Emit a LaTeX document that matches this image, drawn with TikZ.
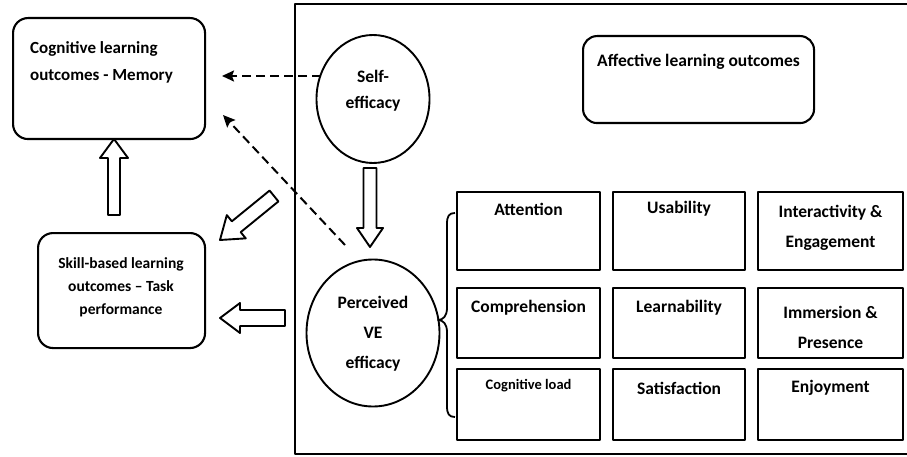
\documentclass[tikz,border=0pt]{standalone}
\usepackage{fontspec}
\setmainfont{Carlito}
\usetikzlibrary{calc,arrows.meta,shapes.geometric}

% hollow block arrow: tail, tip, shaft half width, head half width, head length
\newcommand\blockarrow[5]{%
  \coordinate (ba-h) at ($(#2)!#5!(#1)$);
  \draw[blockline] ($(#1)!#3!90:(#2)$) -- ($(ba-h)!#3!90:(#2)$)
    -- ($(ba-h)!#4!90:(#2)$) -- (#2) -- ($(ba-h)!#4!-90:(#2)$)
    -- ($(ba-h)!#3!-90:(#2)$) -- ($(#1)!#3!-90:(#2)$) -- cycle;}

\begin{document}
\begin{tikzpicture}[x=1pt,y=-1pt,line join=round,
  frame/.style={draw,line width=2.4pt},
  rbox/.style={draw,line width=2.1pt,rounded corners=15pt,inner sep=0,anchor=north west},
  gbox/.style={draw,line width=2.1pt,inner sep=0,anchor=north west},
  oval/.style={draw,ellipse,line width=1.9pt,inner sep=0},
  txt/.style={font=\fontsize{17.5}{30}\selectfont\bfseries,align=center,inner sep=0},
  blockline/.style={draw,line width=1.9pt,fill=white},
  dasharrow/.style={draw,line width=2pt,dash pattern=on 9pt off 5pt,
    -{Stealth[length=12pt,width=11pt,inset=2pt]}},
  bline/.style={draw,line width=1.8pt}]
\useasboundingbox (0,0) rectangle (907,457);

% outer frame (open to the right)
\draw[frame] (912,4) -- (295,4) -- (295,454) -- (912,454);

% outcome boxes on the left
\node[rbox,minimum width=192pt,minimum height=121pt] (cog) at (12,17) {};
\node[txt,align=left,anchor=west,font=\fontsize{17}{27}\selectfont\bfseries] (cogt) at (30,62)
  {Cognitive learning\\outcomes - Memory};
\node[rbox,minimum width=167pt,minimum height=115pt] (skill) at (37,232) {};
\node[txt,font=\fontsize{15.5}{23}\selectfont\bfseries] (skillt) at (121,287)
  {Skill-based learning\\outcomes -- Task\\performance};

% affective outcomes box
\node[rbox,minimum width=231pt,minimum height=87pt,rounded corners=14pt] (aff) at (582,35) {};
\node[txt,font=\fontsize{17.5}{20}\selectfont\bfseries,anchor=west] (afft) at (597,62)
  {Affective learning outcomes};

% efficacy ovals
\node[oval,minimum width=113pt,minimum height=128pt] (self) at (373,99) {};
\node[txt,font=\fontsize{17.5}{26}\selectfont\bfseries] (selft) at (373,91) {Self-\\efficacy};
\node[oval,minimum width=133pt,minimum height=147pt] (perc) at (373,333) {};
\node[txt] (perct) at (373,334) {Perceived\\VE\\efficacy};

% grid of affective factors
\node[gbox,minimum width=143pt,minimum height=78pt] (b11) at (456,191) {};
\node[gbox,minimum width=132pt,minimum height=78pt] (b12) at (612,191) {};
\node[gbox,minimum width=145pt,minimum height=78pt] (b13) at (757,191) {};
\node[gbox,minimum width=143pt,minimum height=70pt] (b21) at (456,287) {};
\node[gbox,minimum width=132pt,minimum height=70pt] (b22) at (612,287) {};
\node[gbox,minimum width=145pt,minimum height=70pt] (b23) at (757,287) {};
\node[gbox,minimum width=143pt,minimum height=71pt] (b31) at (456,368) {};
\node[gbox,minimum width=132pt,minimum height=71pt] (b32) at (612,368) {};
\node[gbox,minimum width=145pt,minimum height=71pt] (b33) at (757,368) {};

\node[txt] (t11) at ($(b11.north)+(0,18)$) {Attention};
\node[txt] (t12) at ($(b12.north)+(0,18)$) {Usability};
\node[txt] (t13) at ($(b13.north)+(0,37)$) {Interactivity \&\\Engagement};
\node[txt] (t21) at ($(b21.north)+(0,21)$) {Comprehension};
\node[txt] (t22) at ($(b22.north)+(0,21)$) {Learnability};
\node[txt] (t23) at ($(b23.north)+(0,40)$) {Immersion \&\\Presence};
\node[txt,font=\fontsize{14.5}{17}\selectfont\bfseries] (t31) at ($(b31.north)+(0,18)$) {Cognitive load};
\node[txt] (t32) at ($(b32.north)+(0,20)$) {Satisfaction};
\node[txt] (t33) at ($(b33.north)+(0,20)$) {Enjoyment};

% brace joining perceived efficacy to the first column
\draw[bline] (455,213) .. controls (449,213) and (447,216) .. (447,224) -- (447,308)
  .. controls (447,316) and (443,320) .. (438,320)
  .. controls (443,320) and (447,324) .. (447,332) -- (447,406)
  .. controls (447,414) and (449,417) .. (455,417);

% dashed links towards cognitive outcomes
\coordinate (d1s) at (321,76);
\coordinate (d1e) at (222,76);
\coordinate (d2s) at (345,245);
\coordinate (d2e) at (223,115);
\draw[dasharrow] (d1s) -- (d1e);
\draw[dasharrow] (d2s) -- (d2e);

% hollow block arrows
\coordinate (u0) at (114,215);
\coordinate (u1) at (114,139);
\blockarrow{u0}{u1}{6pt}{14pt}{19pt}
\coordinate (g0) at (274,196);
\coordinate (g1) at (220,240);
\blockarrow{g0}{g1}{7pt}{15pt}{21pt}
\coordinate (l0) at (285,318);
\coordinate (l1) at (220,318);
\blockarrow{l0}{l1}{8pt}{15pt}{20pt}
\coordinate (v0) at (370,168);
\coordinate (v1) at (370,247);
\blockarrow{v0}{v1}{6.5pt}{13pt}{19pt}
\end{tikzpicture}
\end{document}
